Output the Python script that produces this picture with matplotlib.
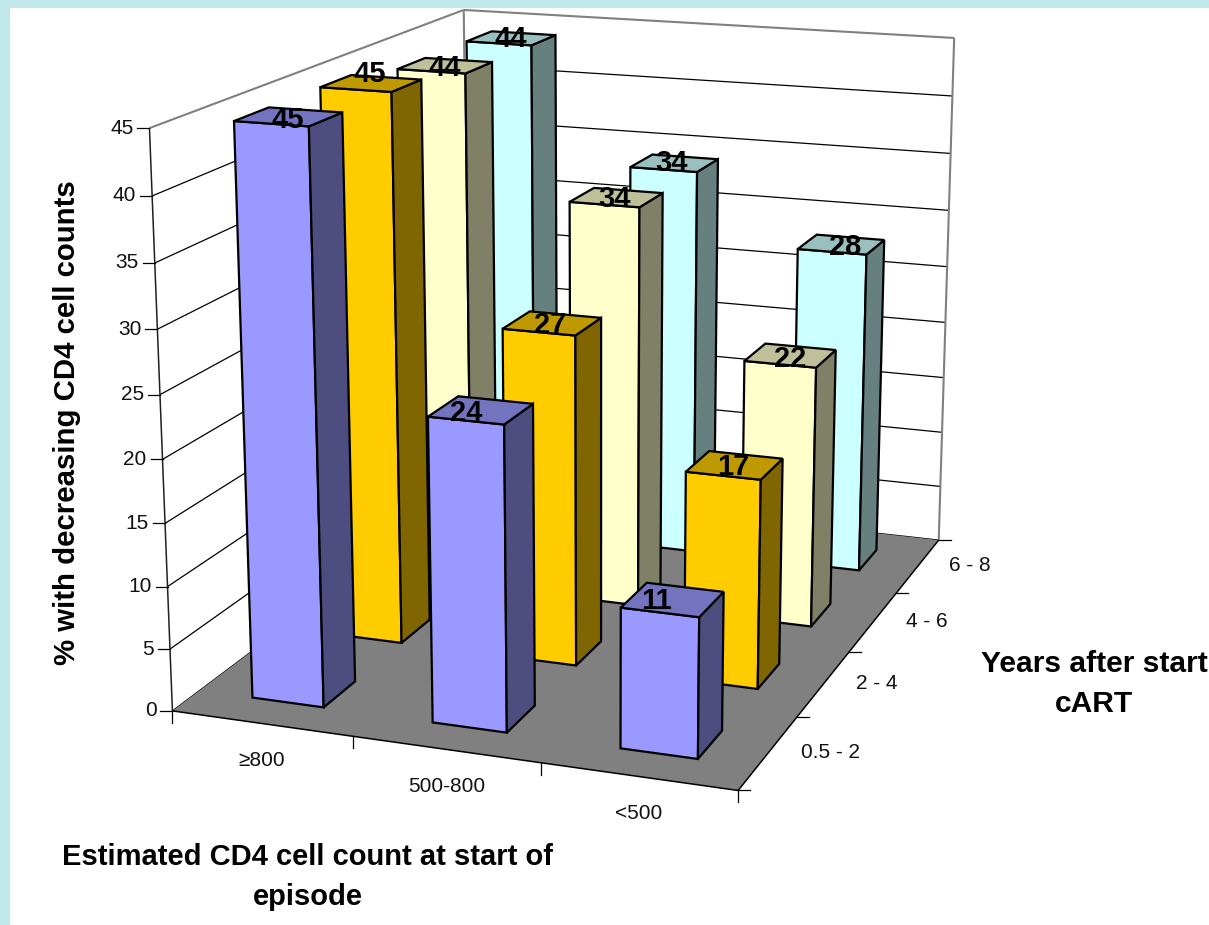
import numpy as np
import matplotlib
matplotlib.use("Agg")
import matplotlib.pyplot as plt
from matplotlib.patches import Polygon, Rectangle

plt.rcParams["font.family"] = ["Liberation Sans", "DejaVu Sans"]

# Chart data
cd4_groups = ["≥800", "500-800", "<500"]
years = ["0.5 - 2", "2 - 4", "4 - 6", "6 - 8"]
pct_0_5_2 = [45, 24, 11]
pct_2_4 = [45, 27, 17]
pct_4_6 = [44, 34, 22]
pct_6_8 = [44, 34, 28]
series_values = [pct_0_5_2, pct_2_4, pct_4_6, pct_6_8]
z_ticks = [0, 5, 10, 15, 20, 25, 30, 35, 40, 45]

# Face, top and side shades per series
face_colors = ["#9999FF", "#FFCC00", "#FFFFCC", "#CCFFFF"]
top_colors = ["#7373BF", "#BF9900", "#BFBF99", "#99BFBF"]
side_colors = ["#4D4D80", "#806600", "#808066", "#668080"]

W, H = 1209, 925
ZMAX = 45.0
BAR_W = 0.40   # share of a category slot
BAR_D = 0.39   # share of a series slot

# Hand-placed value labels: (series, category) -> pixel shift from the top-face centre
label_shift = {(0, 0): (-1, 3), (0, 1): (-15, 3), (0, 2): (-16, 1), (1, 0): (-1, -9),
               (1, 1): (-2, 2), (1, 2): (-1, 2), (2, 0): (0, 2), (2, 1): (-2, 2),
               (2, 2): (0, 4), (3, 0): (-1, 1), (3, 1): (-3, 0), (3, 2): (4, 2)}
year_label_dx = [62, 53, 53, 52]

# Camera: box corners (x, y, z/ZMAX) and where they land on the canvas
box_corners = [(0, 0, 0), (1, 0, 0), (1, 1, 0), (0, 1, 0), (0, 0, 1), (1, 1, 1), (0, 1, 1)]
canvas_corners = [(172, 711), (738, 790.5), (938.5, 540), (470, 488), (150, 128), (954.5, 38), (463, 10)]


def solve_camera(src, dst):
    rows, rhs = [], []
    for (x, y, z), (u, v) in zip(src, dst):
        rows.append([x, y, z, 1, 0, 0, 0, 0, -u * x, -u * y, -u * z])
        rhs.append(u)
        rows.append([0, 0, 0, 0, x, y, z, 1, -v * x, -v * y, -v * z])
        rhs.append(v)
    sol = np.linalg.lstsq(np.array(rows, float), np.array(rhs, float), rcond=None)[0]
    return np.append(sol, 1.0).reshape(3, 4)


CAM = solve_camera(box_corners, canvas_corners)


def project(x, y, z):
    p = CAM @ np.array([x, y, z / ZMAX, 1.0])
    return p[0] / p[2], p[1] / p[2]


fig = plt.figure(figsize=(W / 100, H / 100), dpi=100, facecolor="white")
ax = fig.add_axes([0, 0, 1, 1])
ax.set_xlim(0, W)
ax.set_ylim(H, 0)
ax.axis("off")

# Slide background strips
ax.add_patch(Rectangle((0, 0), W, 8, fc="#C0E8EA", ec="none"))
ax.add_patch(Rectangle((0, 0), 10, H, fc="#C0E8EA", ec="none"))


def line3(a, b, color="black", lw=1.0, z=2):
    pa, pb = project(*a), project(*b)
    ax.plot([pa[0], pb[0]], [pa[1], pb[1]], color=color, lw=lw, zorder=z, solid_capstyle="butt")


# Gridlines on the left and back walls
for t in z_ticks[:-1]:
    line3((0, 0, t), (0, 1, t), lw=0.9)
    line3((0, 1, t), (1, 1, t), lw=0.9)

# Wall outline
GREY = "#808080"
line3((0, 0, ZMAX), (0, 1, ZMAX), GREY, 1.5)
line3((0, 1, ZMAX), (1, 1, ZMAX), GREY, 1.5)
line3((0, 1, 0), (0, 1, ZMAX), GREY, 1.5)
line3((1, 1, 0), (1, 1, ZMAX), GREY, 1.5)

# Floor
floor = [project(0, 0, 0), project(1, 0, 0), project(1, 1, 0), project(0, 1, 0)]
ax.add_patch(Polygon(floor, closed=True, fc=GREY, ec="none", zorder=3))
line3((0, 0, 0), (1, 0, 0), lw=1.1, z=4)
line3((1, 0, 0), (1, 1, 0), lw=1.1, z=4)
line3((0, 0, 0), (0, 0, ZMAX), "#202020", 1.1, 4)

# Tick marks and value labels on the vertical axis
for t in z_ticks:
    px, py = project(0, 0, t)
    ax.plot([px - 12, px], [py, py], color="black", lw=0.9, zorder=4)
    ax.text(px - 16, py, str(t), ha="right", va="center", fontsize=15, color="#111111")
    if t == 0:
        ax.plot([px, px], [py, py + 12], color="black", lw=0.9, zorder=4)

# Category ticks along the front edge
n_x, n_y = len(cd4_groups), len(years)
for i in range(1, n_x + 1):
    px, py = project(i / n_x, 0, 0)
    ax.plot([px, px], [py, py + 12], color="black", lw=0.9, zorder=4)
for j in range(0, n_y + 1):
    px, py = project(1, j / n_y, 0)
    ax.plot([px, px + 12], [py, py], color="black", lw=0.9, zorder=4)

for i, name in enumerate(cd4_groups):
    px, py = project((i + 0.5) / n_x, 0, 0)
    ax.text(px, py + 37.5, name, ha="center", va="center", fontsize=15, color="#111111")
for j, name in enumerate(years):
    px, py = project(1, (j + 0.5) / n_y, 0)
    ax.text(px + year_label_dx[j], py, name, ha="center", va="center", fontsize=15, color="#111111")

# Bars, painted from the back row forward and left to right
z_order = 10
for j in range(n_y - 1, -1, -1):
    for i in range(n_x):
        val = series_values[j][i]
        x0 = (i + 0.5 - BAR_W / 2) / n_x
        x1 = (i + 0.5 + BAR_W / 2) / n_x
        y0 = (j + 0.5 - BAR_D / 2) / n_y
        y1 = (j + 0.5 + BAR_D / 2) / n_y
        edge = dict(ec="black", lw=1.6, joinstyle="miter", zorder=z_order)
        front = [project(x0, y0, 0), project(x1, y0, 0), project(x1, y0, val), project(x0, y0, val)]
        side = [project(x1, y0, 0), project(x1, y1, 0), project(x1, y1, val), project(x1, y0, val)]
        top = [project(x0, y0, val), project(x1, y0, val), project(x1, y1, val), project(x0, y1, val)]
        ax.add_patch(Polygon(front, closed=True, fc=face_colors[j], **edge))
        ax.add_patch(Polygon(side, closed=True, fc=side_colors[j], **edge))
        ax.add_patch(Polygon(top, closed=True, fc=top_colors[j], **edge))
        z_order += 1

# Value labels sit on the top face of each bar
for j in range(n_y):
    for i in range(n_x):
        val = series_values[j][i]
        px, py = project((i + 0.5) / n_x, (j + 0.5) / n_y, val)
        dx, dy = label_shift[(j, i)]
        ax.text(px + dx, py + dy, str(val), ha="center", va="center", fontsize=21, fontweight="bold",
                color="black", zorder=100)

# Axis titles
title_kw = dict(fontweight="bold", color="black", ha="center", va="center", linespacing=1.55)
ax.text(67, 423, "% with decreasing CD4 cell counts", rotation=90, fontsize=21.2, **title_kw)
ax.text(308, 877, "Estimated CD4 cell count at start of\nepisode", fontsize=21, **title_kw)
ax.text(1094, 684, "Years after start\ncART", fontsize=21.6, **title_kw)

fig.savefig("out.png", dpi=100, facecolor="white")
